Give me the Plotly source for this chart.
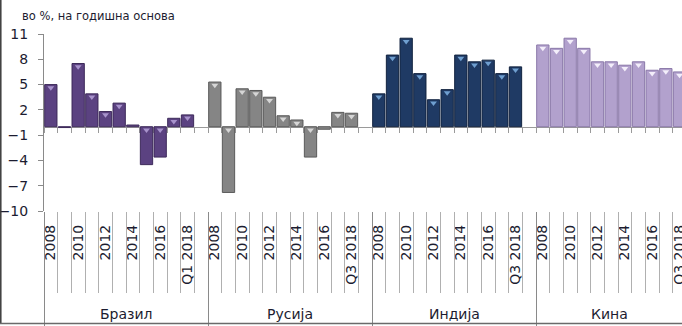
import plotly.graph_objects as go

# ---- data ----
countries = ["Бразил", "Русија", "Индија", "Кина"]
years = ["2008", "2009", "2010", "2011", "2012", "2013", "2014", "2015", "2016", "2017"]
last_labels = ["Q1 2018", "Q3 2018", "Q3 2018", "Q3 2018"]
brazil = [5.0, -0.1, 7.5, 3.9, 1.8, 2.8, 0.2, -4.5, -3.6, 1.0, 1.4, None]
russia = [5.3, -7.8, 4.5, 4.3, 3.5, 1.3, 0.8, -3.6, -0.3, 1.7, 1.6, None]
india = [3.9, 8.5, 10.5, 6.3, 3.2, 4.4, 8.5, 7.7, 7.9, 6.3, 7.1, None]
china = [9.7, 9.3, 10.5, 9.3, 7.7, 7.7, 7.3, 7.7, 6.7, 6.9, 6.5, None]
y_ticks = [-10, -7, -4, -1, 2, 5, 8, 11]
y_title = "во %, на годишна основа"

series = [brazil, russia, india, china]
fills = ["#5b4281", "#858585", "#1f3a64", "#b2a1cd"]
edges = ["#3d2a5a", "#5a5a5a", "#12233f", "#8a78a8"]
tips = ["#a893cc", "#d6d6d6", "#6f9fd0", "#f3eefa"]

W, H = 682, 326
ML, MR, MT, MB = 44, 0, 34, 115
PW, PH = W - ML - MR, H - MT - MB
n_slot = len(years) + 2  # 10 years, last observation, empty slot
slot_px = 164 / n_slot
x_max = -0.5 + PW / slot_px

fig = go.Figure()

tickvals, ticktext = [], []
for g, (name, vals) in enumerate(zip(countries, series)):
    off = g * n_slot
    xs = [off + i for i in range(len(vals))]
    fig.add_trace(go.Bar(
        x=xs, y=vals, width=0.9,
        marker=dict(color=fills[g], line=dict(color=edges[g], width=1)),
        showlegend=False, hoverinfo="skip"))
    mx = [x for x, v in zip(xs, vals) if v is not None and abs(v) >= 0.6]
    my = [max(v, 0) - 0.38 for v in vals if v is not None and abs(v) >= 0.6]
    fig.add_trace(go.Scatter(
        x=mx, y=my, mode="markers", xaxis="x2",
        marker=dict(symbol="triangle-down", size=6, color=tips[g], line=dict(width=0)),
        showlegend=False, hoverinfo="skip"))
    labels = years + [last_labels[g]]
    for i in range(0, len(labels), 2):
        tickvals.append(off + i)
        ticktext.append(labels[i])
    center = (off - 0.5 + min(off + n_slot - 0.5, x_max)) / 2
    fig.add_annotation(x=center, xref="x", y=-(314 - (MT + PH)) / PH, yref="paper",
                       text=name, showarrow=False, yanchor="middle",
                       font=dict(family="DejaVu Sans", size=14, color="#1c1c30"))

fig.add_trace(go.Scatter(x=[None], y=[None], xaxis="x3", showlegend=False, hoverinfo="skip"))

boundaries = [b - 0.5 for b in range(0, 4 * n_slot + 1)]
group_bounds = [g * n_slot - 0.5 for g in range(4)]

fig.add_annotation(x=(20 - ML) / PW, xref="paper", y=1 + (MT - 16) / PH, yref="paper",
                   text=y_title, showarrow=False, xanchor="left", yanchor="middle",
                   font=dict(family="DejaVu Sans", size=11.5, color="#1c1c30"))

# frame lines (left and bottom)
fig.add_shape(type="line", xref="paper", yref="paper",
              x0=(0.8 - ML) / PW, x1=(0.8 - ML) / PW, y0=1 + MT / PH, y1=-(323.5 - MT - PH) / PH,
              line=dict(color="#3a3a3a", width=1.5))
fig.add_shape(type="line", xref="paper", yref="paper",
              x0=-ML / PW, x1=1, y0=-(323.5 - MT - PH) / PH, y1=-(323.5 - MT - PH) / PH,
              line=dict(color="#6a6a6a", width=1.5))

fig.update_layout(
    width=W, height=H,
    margin=dict(l=ML, r=MR, t=MT, b=MB, autoexpand=False),
    paper_bgcolor="white", plot_bgcolor="white",
    barmode="overlay",
    font=dict(family="DejaVu Sans", color="#1c1c30"),
    xaxis=dict(range=[-0.5, x_max], tickmode="array", tickvals=tickvals, ticktext=ticktext,
               tickangle=-90, ticks="", showgrid=False, zeroline=False, showline=False,
               ticklabeloverflow="allow",
               ticklabelstandoff=10, tickfont=dict(family="DejaVu Sans", size=14, color="#1c1c30")),
    xaxis2=dict(range=[-0.5, x_max], overlaying="x", anchor="y", side="bottom",
                tickmode="array", tickvals=group_bounds, ticks="outside", ticklen=114,
                tickcolor="#8a8a8a", tickwidth=1, showticklabels=False, showgrid=False,
                zeroline=False, showline=False,
                minor=dict(tickmode="array", tickvals=boundaries, ticks="outside", ticklen=81,
                           tickcolor="#b0b0b0", tickwidth=1, showgrid=False)),
    xaxis3=dict(range=[-0.5, x_max], overlaying="x", anchor="free", position=10 / 21,
                side="bottom", tickmode="array", tickvals=boundaries, ticks="outside",
                ticklen=5, tickcolor="#9a9a9a", showticklabels=False, showgrid=False,
                zeroline=False, showline=True, linecolor="#9a9a9a", linewidth=1.2,
                layer="below traces"),
    yaxis=dict(range=[-10, 11], tickmode="array", tickvals=y_ticks, ticks="outside", ticklen=5,
               tickcolor="#8a8a8a", showline=True, linecolor="#8a8a8a", linewidth=1,
               showgrid=False, zeroline=False, ticklabelstandoff=7,
               tickfont=dict(family="DejaVu Sans", size=14, color="#1c1c30")),
)

fig.write_html("out.html")
